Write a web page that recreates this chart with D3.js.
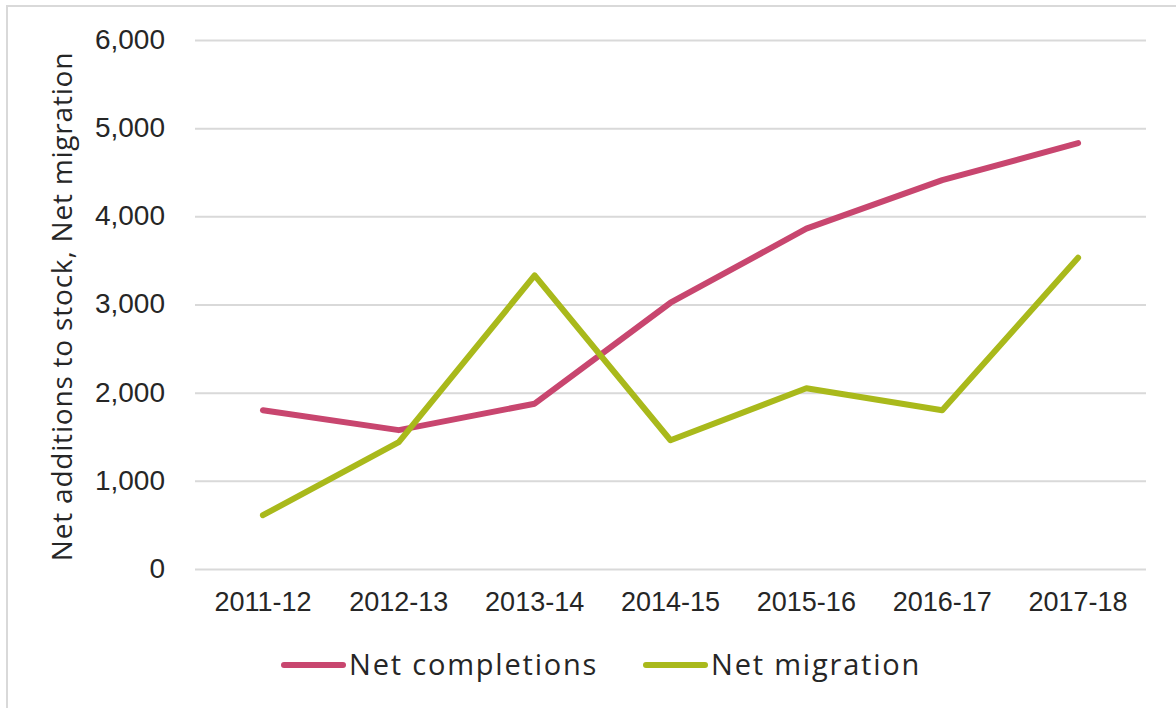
<!DOCTYPE html>
<html>
<head>
<meta charset="utf-8">
<script src="https://cdn.jsdelivr.net/npm/d3@7"></script>
<style>
  body { margin: 0; background: #fff; }
  svg { display: block; font-family: "Open Sans", sans-serif; }
</style>
</head>
<body>
<div id="chart"></div>
<script>
var years = ["2011-12", "2012-13", "2013-14", "2014-15", "2015-16", "2016-17", "2017-18"];
var netCompletions = [1800, 1575, 1875, 3020, 3860, 4410, 4830];
var netMigration = [610, 1440, 3330, 1460, 2050, 1800, 3530];
var yTicks = [0, 1000, 2000, 3000, 4000, 5000, 6000];
var seriesNames = ["Net completions", "Net migration"];
var seriesColors = ["#c8466f", "#a9b91b"];

var W = 1176, H = 708;
var svg = d3.select("#chart").append("svg")
            .attr("width", W).attr("height", H);

// outer frame
svg.append("rect").attr("x", 7).attr("y", 6)
   .attr("width", W).attr("height", H)
   .attr("fill", "none").attr("stroke", "#d9d9d9").attr("stroke-width", 2);

var plotL = 195, plotR = 1146, plotT = 40, plotB = 569;

var x = d3.scaleBand().domain(years).range([plotL, plotR]);
var y = d3.scaleLinear().domain([0, 6000]).range([plotB, plotT]);

// gridlines + y labels
var yAxis = d3.axisLeft(y).tickValues(yTicks)
              .tickSize(-(plotR - plotL))
              .tickPadding(30)
              .tickFormat(d3.format(","));
var gy = svg.append("g").attr("transform", "translate(" + plotL + ",0)").call(yAxis);
gy.select(".domain").remove();
gy.selectAll(".tick line").attr("stroke", "#d9d9d9").attr("stroke-width", 2);
gy.selectAll(".tick text").attr("fill", "#262626").style("font-size", "28px")
  .attr("x", -30).attr("dy", "0.3em");

// x labels
var xAxis = d3.axisBottom(x).tickSize(0).tickPadding(22);
var gx = svg.append("g").attr("transform", "translate(0," + plotB + ")").call(xAxis);
gx.select(".domain").remove();
gx.selectAll(".tick text").attr("fill", "#262626").style("font-size", "27px")
  .attr("dy", "0.75em");

// y axis title
svg.append("text")
   .attr("transform", "translate(72," + ((plotT + plotB) / 2 + 2) + ") rotate(-90)")
   .attr("text-anchor", "middle")
   .attr("fill", "#262626")
   .style("font-size", "28px")
   .style("letter-spacing", "0.8px")
   .text("Net additions to stock, Net migration");

// lines
var line = d3.line()
    .x(function(d, i){ return x(years[i]) + x.bandwidth() / 2; })
    .y(function(d){ return y(d); });

[netCompletions, netMigration].forEach(function(s, i){
  svg.append("path").datum(s)
     .attr("d", line)
     .attr("fill", "none")
     .attr("stroke", seriesColors[i])
     .attr("stroke-width", 6)
     .attr("stroke-linejoin", "round")
     .attr("stroke-linecap", "round");
});

// legend
var legendX = [284, 646];
seriesNames.forEach(function(name, i){
  var g = svg.append("g").attr("transform", "translate(" + legendX[i] + ",665)");
  g.append("line").attr("x1", 0).attr("x2", 59)
   .attr("stroke", seriesColors[i]).attr("stroke-width", 6)
   .attr("stroke-linecap", "round");
  g.append("text").attr("x", 65).attr("dy", "0.36em")
   .attr("fill", "#262626").style("font-size", "29px")
   .style("letter-spacing", "1.8px")
   .text(name);
});
</script>
</body>
</html>
